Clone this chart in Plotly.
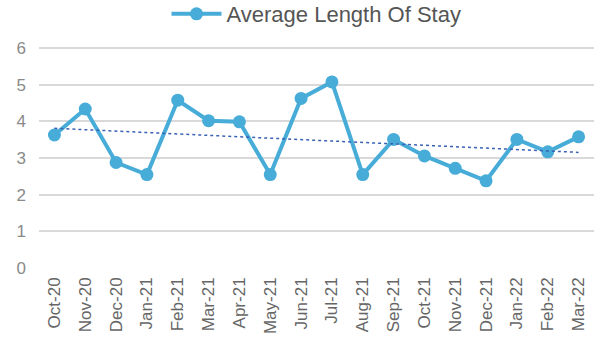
import numpy as np
import plotly.graph_objects as go

# Monthly average length of stay (days)
months = ["Oct-20", "Nov-20", "Dec-20", "Jan-21", "Feb-21", "Mar-21", "Apr-21",
          "May-21", "Jun-21", "Jul-21", "Aug-21", "Sep-21", "Oct-21", "Nov-21",
          "Dec-21", "Jan-22", "Feb-22", "Mar-22"]
avg_stay = [3.63, 4.34, 2.88, 2.55, 4.58, 4.02, 3.99, 2.55, 4.63, 5.08,
            2.55, 3.51, 3.06, 2.72, 2.38, 3.51, 3.17, 3.58]
y_ticks = [0, 1, 2, 3, 4, 5, 6]

# Linear trendline through the monthly values
idx = np.arange(len(months))
slope, intercept = np.polyfit(idx, avg_stay, 1)
trend = slope * idx + intercept

LINE_BLUE = "#47acd8"
FONT = "Liberation Sans, Arial, sans-serif"

fig = go.Figure()
fig.add_trace(go.Scatter(
    x=months, y=avg_stay, mode="lines+markers",
    name="Average Length Of Stay",
    line=dict(color=LINE_BLUE, width=4),
    marker=dict(color=LINE_BLUE, size=13),
))
fig.add_trace(go.Scatter(
    x=months, y=trend, mode="lines", showlegend=False,
    line=dict(color="#3a62b4", width=1.5, dash="dot"),
    hoverinfo="skip",
))

fig.update_layout(
    width=597, height=341,
    margin=dict(l=39, r=3, t=46, b=73, autoexpand=False),
    paper_bgcolor="white", plot_bgcolor="white",
    font=dict(family=FONT, color="#777777"),
    showlegend=True,
    legend=dict(
        orientation="h", x=0.5, xanchor="center",
        yref="container", y=1 - 14 / 341, yanchor="middle",
        font=dict(size=22, color="#555555", family=FONT),
        itemwidth=50, bgcolor="rgba(0,0,0,0)",
    ),
    xaxis=dict(
        type="category", range=[-0.5, len(months) - 0.5],
        tickangle=-90, tickfont=dict(size=17, color="#666666"),
        ticklabelstandoff=5,
        showgrid=False, showline=False, ticks="", ticklen=0,
    ),
    yaxis=dict(
        range=[0, 6.06], tickvals=y_ticks, tickfont=dict(size=17, color="#8a8a8a"),
        ticklabelstandoff=12,
        showgrid=True, gridcolor="#d9d9d9", gridwidth=2,
        zeroline=False, showline=False, ticks="", ticklen=0,
    ),
)

fig.write_html("out.html")
